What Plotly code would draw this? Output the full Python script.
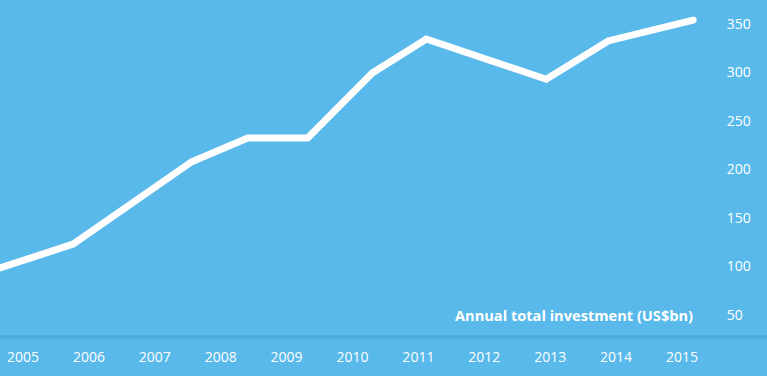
import plotly.graph_objects as go

# Data (fractional year positions of line vertices)
years = [2004.65, 2005.76, 2007.56, 2008.41, 2009.32, 2010.30, 2011.12, 2012.94, 2013.88, 2015.17]
investment = [98.5, 123, 208, 232.5, 232.5, 299.5, 334.5, 293, 332.5, 354]
tick_years = [2005, 2006, 2007, 2008, 2009, 2010, 2011, 2012, 2013, 2014, 2015]
tick_values = [50, 100, 150, 200, 250, 300, 350]
title_text = "Annual total investment (US$bn)"

BG = "#58b9ea"
BAND = "#4eaee1"
FONT = "Open Sans"

fig = go.Figure()
fig.add_trace(go.Scatter(
    x=years, y=investment, mode="lines",
    line=dict(color="white", width=7),
    hoverinfo="skip", showlegend=False,
))

fig.update_layout(
    width=767, height=376,
    margin=dict(l=0, r=52, t=0, b=41),
    paper_bgcolor=BG, plot_bgcolor=BG,
    font=dict(family=FONT, color="white", size=14),
    xaxis=dict(
        range=[2004.651, 2015.501],
        tickmode="array", tickvals=tick_years,
        ticktext=[str(y) for y in tick_years],
        showgrid=False, zeroline=False, showline=False,
        ticks="outside", ticklen=9, tickcolor="rgba(0,0,0,0)",
        tickfont=dict(family=FONT, color="white", size=14),
        fixedrange=True,
    ),
    yaxis=dict(
        range=[29.4, 374.7],
        side="right",
        tickmode="array", tickvals=tick_values,
        showgrid=False, zeroline=False, showline=False,
        ticks="outside", ticklen=8, tickcolor="rgba(0,0,0,0)",
        tickfont=dict(family=FONT, color="white", size=14),
        fixedrange=True,
    ),
    shapes=[dict(
        type="rect", xref="paper", yref="paper",
        x0=0, x1=1.1, y0=-0.013, y1=0,
        fillcolor=BAND, line=dict(width=0), layer="below",
    )],
    annotations=[dict(
        text="<b>" + title_text + "</b>",
        xref="x", yref="y", x=2015.17, y=50, xshift=2,
        xanchor="right", yanchor="middle", showarrow=False,
        font=dict(family=FONT, color="white", size=14.6),
    )],
)

fig.write_html(
    "out.html",
    config={"displayModeBar": False},
    post_script=(
        "document.body.style.margin='0';document.body.style.overflow='hidden';"
        "document.querySelectorAll('.scatterlayer path.js-line').forEach("
        "function(p){p.style.strokeLinecap='round';});"
    ),
)
